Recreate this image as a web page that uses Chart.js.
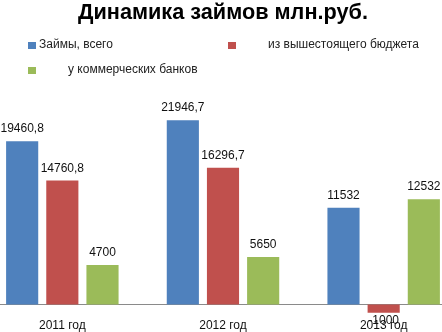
<!DOCTYPE html>
<html>
<head>
<meta charset="utf-8">
<script src="https://cdn.jsdelivr.net/npm/chart.js@4/dist/chart.umd.min.js"></script>
<style>
  body { margin: 0; background: #fff; }
  #wrap { position: relative; width: 442px; height: 332px; overflow: hidden; }
  #loansChart { position: absolute; left: -18px; top: 0; }
</style>
</head>
<body>
<div id="wrap">
  <canvas id="loansChart" width="482" height="332"></canvas>
</div>
<script>
const years = ["2011 год", "2012 год", "2013 год"];
const totalLoans = [19460.8, 21946.7, 11532];
const budgetLoans = [14760.8, 16296.7, -1000];
const bankLoans = [4700, 5650, 12532];

const seriesNames = ["Займы, всего", "из вышестоящего бюджета", "у коммерческих банков"];
const seriesColors = ["#4f81bd", "#c0504d", "#9bbb59"];

const baseFont = "'Liberation Sans', Arial, sans-serif";

// legend slots: box x, text x, row y (canvas coords)
const legendSlots = [
    { box: 46, text: 57, y: 45 },
    { box: 246, text: 286, y: 45 },
    { box: 46, text: 86, y: 70 }
];

function formatValue(v) {
    return String(v).replace(".", ",");
}

const zeroLine = {
    id: "zeroLine",
    beforeDatasetsDraw(chart) {
        const { ctx, chartArea, scales } = chart;
        const y = Math.round(scales.y.getPixelForValue(0)) + 0.5;
        ctx.save();
        ctx.strokeStyle = "#8a8a8a";
        ctx.lineWidth = 1;
        ctx.beginPath();
        ctx.moveTo(chartArea.left, y);
        ctx.lineTo(chartArea.right, y);
        ctx.stroke();
        ctx.restore();
    }
};

const valueLabels = {
    id: "valueLabels",
    afterDatasetsDraw(chart) {
        const ctx = chart.ctx;
        ctx.save();
        ctx.font = "12px " + baseFont;
        ctx.fillStyle = "#111";
        ctx.textAlign = "center";
        chart.data.datasets.forEach((ds, i) => {
            chart.getDatasetMeta(i).data.forEach((bar, j) => {
                const v = ds.data[j];
                if (v >= 0) {
                    ctx.textBaseline = "alphabetic";
                    ctx.fillText(formatValue(v), bar.x, bar.y - 9);
                } else {
                    ctx.textBaseline = "top";
                    ctx.fillText(formatValue(v), bar.x, bar.y + 2);
                }
            });
        });
        ctx.restore();
    }
};

const slotLegend = {
    id: "slotLegend",
    afterDraw(chart) {
        const ctx = chart.ctx;
        ctx.save();
        ctx.font = "12px " + baseFont;
        ctx.textBaseline = "middle";
        ctx.textAlign = "left";
        chart.data.datasets.forEach((ds, i) => {
            const s = legendSlots[i];
            ctx.fillStyle = ds.backgroundColor;
            ctx.fillRect(s.box, s.y - 3, 8, 7);
            ctx.fillStyle = "#222";
            ctx.fillText(ds.label, s.text, s.y);
        });
        ctx.restore();
    }
};

new Chart(document.getElementById("loansChart"), {
    type: "bar",
    data: {
        labels: years,
        datasets: [
            { label: seriesNames[0], data: totalLoans, backgroundColor: seriesColors[0] },
            { label: seriesNames[1], data: budgetLoans, backgroundColor: seriesColors[1] },
            { label: seriesNames[2], data: bankLoans, backgroundColor: seriesColors[2] }
        ]
    },
    options: {
        responsive: false,
        animation: false,
        layout: { padding: { bottom: -4 } },
        datasets: {
            bar: { categoryPercentage: 0.75, barPercentage: 0.8 }
        },
        plugins: {
            legend: { display: false },
            tooltip: { enabled: false },
            title: {
                display: true,
                text: "Динамика займов млн.руб.",
                color: "#000",
                font: { family: baseFont, size: 21.7, weight: "bold", lineHeight: 1.2 },
                padding: { top: 0, bottom: 58 }
            }
        },
        scales: {
            x: {
                grid: { display: false, drawTicks: false },
                border: { display: false },
                ticks: { color: "#111", font: { family: baseFont, size: 12 }, padding: 3 }
            },
            y: {
                display: false,
                min: -1337,
                max: 26266
            }
        }
    },
    plugins: [zeroLine, valueLabels, slotLegend]
});
</script>
</body>
</html>
